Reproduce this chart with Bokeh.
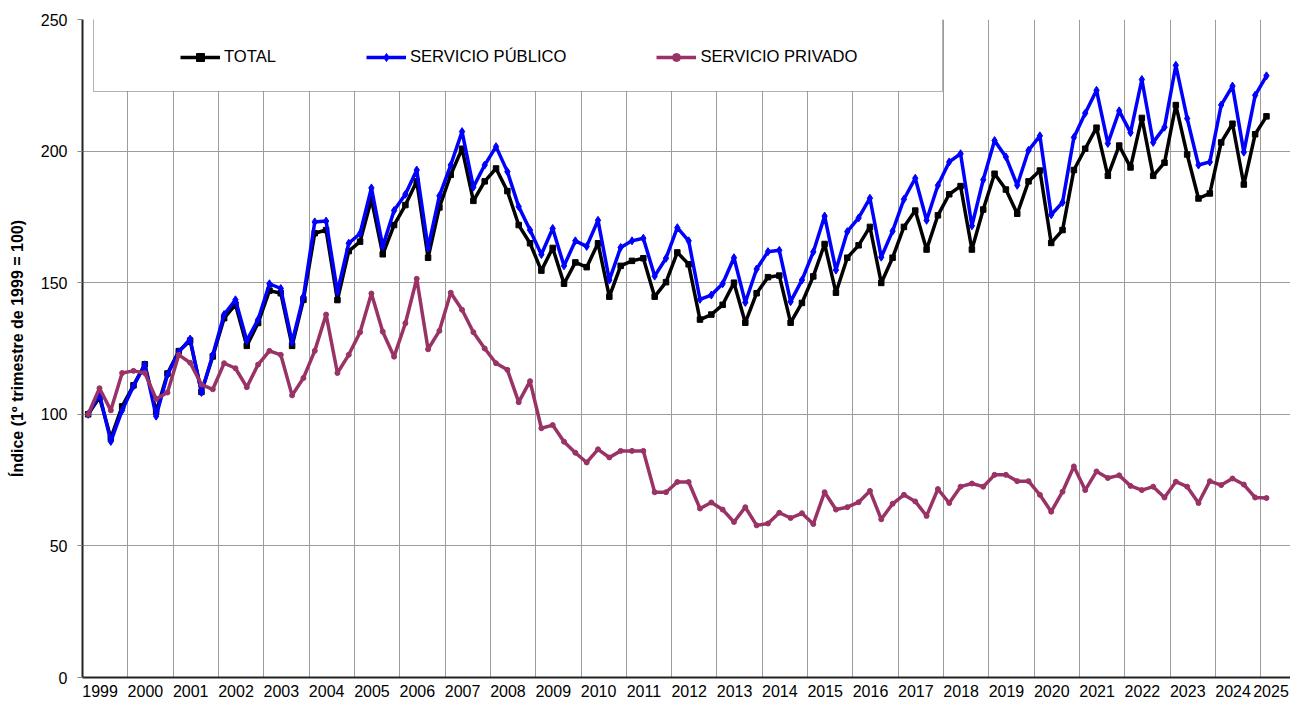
from bokeh.plotting import figure
from bokeh.models import Range1d, FixedTicker, Legend, LegendItem, BoxAnnotation
from bokeh.embed import file_html
from bokeh.resources import INLINE

# Quarterly index, 1st quarter 1999 = 100 (1999-T1 ... 2025-T1)
years = [str(y) for y in range(1999, 2026)]
quarters = [f"{y}-T{q}" for y in range(1999, 2026) for q in range(1, 5)][:105]

total = [100, 106.5, 91, 103, 111, 119, 101, 115.5, 124, 128, 108.5, 122,
         136.5, 141.7, 126, 134.7, 147, 146, 126, 143.5, 168.8, 170, 143.4, 162,
         165.6, 181.7, 160.8, 171.9, 179.5, 188.5, 159.5, 178.6, 191, 200.9, 181.1, 188.5,
         193.4, 184.8, 171.9, 165, 154.6, 163.2, 149.6, 157.7, 155.9, 165, 144.7, 156.4,
         158.3, 159.3, 144.7, 150.2, 161.5, 157, 136, 137.9, 141.6, 150, 134.8, 146,
         152.1, 152.7, 134.8, 142.3, 152.4, 164.7, 146.2, 159.5, 164.2, 171.2, 149.9, 159.5,
         171.2, 177.4, 162.6, 175.6, 183.6, 186.7, 162.6, 177.8, 191.4, 185.4, 176.2, 188.5,
         192.6, 165.1, 170, 192.8, 200.9, 208.9, 190.6, 202.1, 193.8, 212.6, 190.6, 195.6,
         217.5, 198.7, 182, 183.9, 203.3, 210.4, 187.3, 206.4, 213.2]

publico = [100, 107.7, 89.7, 101.5, 110.7, 118.8, 99.3, 115, 123.7, 128.6, 108.3, 122.6,
           137.9, 143.5, 128, 136, 149.6, 147.8, 127.4, 144.7, 173.1, 173.4, 146.5, 165,
           168.7, 186, 163.8, 177.4, 183.6, 192.8, 163.2, 183, 194.7, 207.4, 186.3, 194.7,
           201.7, 192.2, 178.9, 170, 160.7, 170.6, 156.4, 165.9, 163.8, 173.7, 151, 163.4,
           165.9, 166.9, 152.5, 159.3, 170.9, 165.9, 143.7, 145.3, 149.6, 159.5, 142.5, 155.2,
           161.8, 162.3, 142.8, 151, 161.7, 175.3, 154.8, 169.4, 174.6, 182.1, 159.7, 169.6,
           181.7, 189.7, 173.7, 187, 195.9, 199, 171.6, 189.1, 204, 197.8, 187, 200.3,
           205.8, 175.8, 180.5, 205.2, 214.4, 223.1, 202.9, 215.3, 207, 227.2, 203.3, 209.1,
           232.6, 212.4, 194.7, 195.9, 217.5, 224.7, 199.6, 221.2, 228.6]

privado = [100, 109.9, 101.5, 115.7, 116.5, 115.7, 105.8, 108.3, 122.6, 119.6, 111.3, 109.5,
           119.4, 117.5, 110.3, 118.9, 124.1, 122.6, 107.2, 113.8, 124.1, 137.9, 115.7, 122.6,
           131.2, 145.9, 131.4, 121.9, 134.6, 151.5, 124.7, 131.7, 146.2, 139.7, 131.2, 125,
           119.4, 116.9, 104.6, 112.6, 94.7, 95.9, 89.6, 85.4, 81.7, 86.7, 83.6, 86.1,
           86.1, 86.1, 70.4, 70.4, 74.3, 74.3, 64.2, 66.5, 63.8, 59.1, 64.7, 57.8,
           58.5, 62.6, 60.6, 62.4, 58.3, 70.4, 63.8, 64.7, 66.6, 70.9, 60.1, 66,
           69.4, 66.9, 61.4, 71.6, 66.3, 72.5, 73.7, 72.5, 77, 77, 74.6, 74.6,
           69.4, 63, 70.6, 80.2, 71.2, 78.3, 75.8, 76.8, 72.8, 71.2, 72.5, 68.4,
           74.4, 72.5, 66.3, 74.6, 73.1, 75.6, 73.3, 68.4, 68.2]

series_names = ["TOTAL", "SERVICIO PÚBLICO", "SERVICIO PRIVADO"]
y_ticks = [0, 50, 100, 150, 200, 250]
y_title = "Índice (1º trimestre de 1999 = 100)"

FONT = "Liberation Sans"
x = list(range(len(total)))

p = figure(width=1290, height=699, x_range=Range1d(-0.5, 106.12), y_range=Range1d(0, 250),
           output_backend="svg", toolbar_location=None, title=None,
           min_border_left=82, min_border_right=0, min_border_top=19, min_border_bottom=10)
p.outline_line_color = None
p.background_fill_color = "white"
p.border_fill_color = "white"

# grids
p.xgrid.ticker = FixedTicker(ticks=[4 * k - 0.5 for k in range(1, len(years))])
p.ygrid.ticker = FixedTicker(ticks=y_ticks)
for g in (p.xgrid, p.ygrid):
    g.grid_line_color = "#9c9c9c"
    g.grid_line_width = 1

# x axis (year label under each group of four quarters; last one kept inside the canvas)
xt = [min(4 * k + 1.05, 104.4) for k in range(len(years))]
p.xaxis.ticker = FixedTicker(ticks=xt)
p.xaxis.major_label_overrides = {t: years[k] for k, t in enumerate(xt)}
p.xaxis.major_tick_line_color = None
p.xaxis.minor_tick_line_color = None
p.xaxis.major_label_standoff = 1
p.xaxis.axis_line_color = "#222222"
p.xaxis.axis_line_width = 2
p.xaxis.major_label_text_font = FONT
p.xaxis.major_label_text_font_size = "16px"
p.xaxis.major_label_text_color = "black"

# y axis
p.yaxis.ticker = FixedTicker(ticks=y_ticks)
p.yaxis.major_tick_out = 5
p.yaxis.major_tick_in = 0
p.yaxis.major_tick_line_color = "#888888"
p.yaxis.minor_tick_line_color = None
p.yaxis.major_label_standoff = 10
p.yaxis.axis_line_color = "#222222"
p.yaxis.axis_line_width = 2
p.yaxis.major_label_text_font = FONT
p.yaxis.major_label_text_font_size = "16px"
p.yaxis.major_label_text_color = "black"
p.yaxis.axis_label = y_title
p.yaxis.axis_label_text_font = FONT
p.yaxis.axis_label_text_font_style = "bold"
p.yaxis.axis_label_text_font_size = "16px"
p.yaxis.axis_label_text_color = "black"
p.yaxis.axis_label_standoff = 12

# series
colors = ["#000000", "#0000ff", "#993366"]
markers = ["square", "diamond", "circle"]
msizes = [5.5, 8, 5]
items = []
for name, vals, c, m, s in zip(series_names, [total, publico, privado], colors, markers, msizes):
    ln = p.line(x, vals, line_color=c, line_width=3.5, line_join="round")
    sc = p.scatter(x, vals, marker=m, size=s, fill_color=c, line_color=c)
    items.append(LegendItem(label=name, renderers=[ln, sc]))

# legend frame (screen units, measured from the frame's bottom-left corner)
box = BoxAnnotation(left=11, right=860, top=662, bottom=586,
                    left_units="screen", right_units="screen",
                    top_units="screen", bottom_units="screen",
                    fill_color="white", fill_alpha=1.0,
                    line_color="black", line_width=1, level="annotation")
p.add_layout(box)

legend = Legend(items=items, orientation="horizontal", location=(98, 610),
                padding=5, spacing=90, margin=0, glyph_width=40, glyph_height=20,
                label_standoff=4, label_text_font=FONT, label_text_font_size="16.6px",
                label_text_color="black", border_line_color=None,
                background_fill_alpha=0)
p.add_layout(legend)

open("out.html", "w").write(file_html(p, INLINE))
